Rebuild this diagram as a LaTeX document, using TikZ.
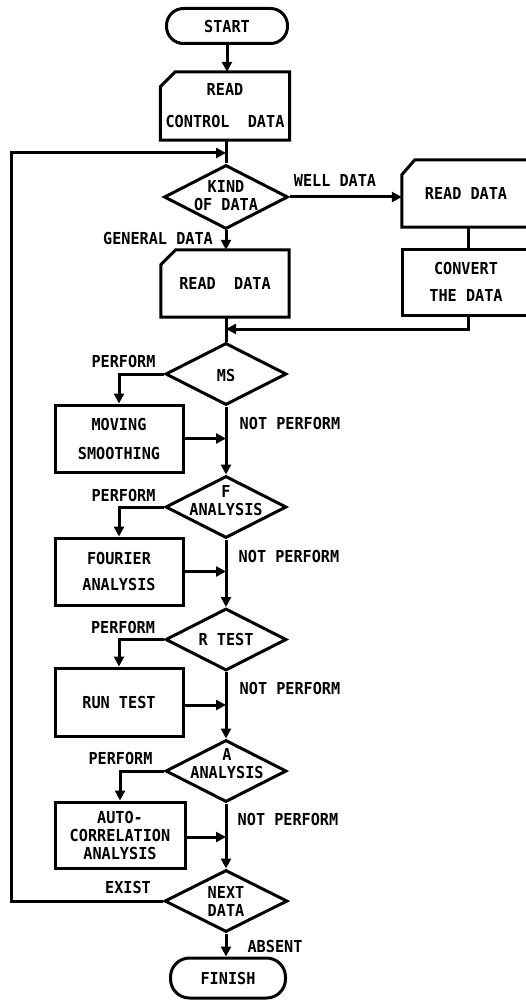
\documentclass[tikz,border=0pt]{standalone}
\usepackage{fontspec}
\newfontfamily\flow[FakeStretch=0.92]{DejaVu Sans Mono}
\usetikzlibrary{arrows.meta,shapes.geometric,calc}
\tikzset{
  line/.style={line width=3pt, line join=miter},
  arr/.style={line, -{Triangle[length=10pt,width=10pt]}},
  txt/.style={font=\flow\bfseries\fontsize{16.5}{18}\selectfont, align=center, inner sep=0pt},
  term/.style={txt, line, draw, rectangle, rounded corners=17pt},
  box/.style={txt, line, draw, rectangle, minimum width=128pt, minimum height=67pt},
  cardin/.style={txt, rectangle, minimum width=128pt, minimum height=67pt},
  dia/.style={line, draw, diamond, inner sep=0pt, minimum width=121pt, minimum height=62pt},
}
\begin{document}
\begin{tikzpicture}[x=1pt,y=-1pt]
\useasboundingbox (0,0) rectangle (526,1000);
\clip (0,0) rectangle (526,1000);
% nodes
\node[term, minimum width=121pt, minimum height=35pt] (start) at (227,26) {START};
\node[cardin, minimum width=129pt, minimum height=68pt] (readctl) at (225,106) {READ\\[14pt]CONTROL\ \ DATA};
\node[dia, minimum width=124pt, minimum height=64pt] (kind) at (226,197) {};
\node[txt] (kindt) at (226,196) {KIND\\OF DATA};
\node[cardin] (rread) at (466,193.5) {READ DATA};
\node[box, minimum height=66pt] (conv) at (466,282) {CONVERT\\[9pt]THE DATA};
\node[cardin] (mread) at (225,283.5) {READ\ \ DATA};
\node[dia] (ms) at (226,374) {};
\node[txt] (mst) at (226,375) {MS};
\node[box] (mov) at (119,438.5) {MOVING\\[11pt]SMOOTHING};
\node[dia] (fa) at (226,507) {};
\node[txt] (fat) at (226,501) {F\\ANALYSIS};
\node[box] (four) at (119,571.5) {FOURIER\\[8pt]ANALYSIS};
\node[dia] (rt) at (226,639.5) {};
\node[txt] (rtt) at (226,639.5) {R TEST};
\node[box, minimum height=68pt] (run) at (119,702) {RUN TEST};
\node[dia] (aa) at (226,771) {};
\node[txt] (aat) at (227,764) {A\\ANALYSIS};
\node[box, minimum width=130pt, minimum height=66pt] (auto) at (120,835) {AUTO-\\CORRELATION\\ANALYSIS};
\node[dia, minimum width=123pt] (next) at (226,901) {};
\node[txt] (nextt) at (226,901) {NEXT\\DATA};
\node[term, minimum width=115pt, minimum height=40pt, rounded corners=19pt] (finish) at (228,978) {FINISH};
% card outlines (cut top-left corner)
\draw[line] ([yshift=-15pt]readctl.north west) -- ([xshift=15pt]readctl.north west) -- (readctl.north east) -- (readctl.south east) -- (readctl.south west) -- cycle;
\draw[line] ([yshift=-15pt]rread.north west) -- ([xshift=13pt]rread.north west) -- (rread.north east) -- (rread.south east) -- (rread.south west) -- cycle;
\draw[line] ([yshift=-15pt]mread.north west) -- ([xshift=15pt]mread.north west) -- (mread.north east) -- (mread.south east) -- (mread.south west) -- cycle;
% labels
\node[txt] (lwell) at (335,180) {WELL DATA};
\node[txt] (lgen) at (158,238) {GENERAL DATA};
\node[txt] (lp1) at (123.5,361) {PERFORM};
\node[txt] (ln1) at (290,423) {NOT PERFORM};
\node[txt] (lp2) at (123.5,495) {PERFORM};
\node[txt] (ln2) at (289,556) {NOT PERFORM};
\node[txt] (lp3) at (123,627) {PERFORM};
\node[txt] (ln3) at (290,688) {NOT PERFORM};
\node[txt] (lp4) at (120.5,758) {PERFORM};
\node[txt] (ln4) at (288,819) {NOT PERFORM};
\node[txt] (lex) at (128,887) {EXIST};
\node[txt] (lab) at (275,946) {ABSENT};
% junction coordinates
\coordinate (j1) at (226,153);
\coordinate (j2) at (226,329);
\coordinate (loopL) at (11,153);
\coordinate (cdown) at (468,329);
% connectors
\draw[arr] (start.south) -- (start.south |- readctl.north);
\draw[line] (readctl.south -| kind.north) -- (kind.north);
\draw[arr] (kind.east) -- (rread.west |- kind.east);
\draw[arr] (kind.south) -- (kind.south |- mread.north);
\draw[line] (rread.south -| cdown) -- (conv.north -| cdown);
\draw[arr] (conv.south -| cdown) -- (cdown) -- (j2);
\draw[line] (mread.south -| ms.north) -- (ms.north);
\draw[arr] (ms.west) -| (mov.north);
\draw[arr] (ms.south) -- (fa.north);
\draw[arr] (mov.east) -- (mov.east -| ms.south);
\draw[arr] (fa.west) -| (four.north);
\draw[arr] (fa.south) -- (rt.north);
\draw[arr] (four.east) -- (four.east -| fa.south);
\draw[arr] (rt.west) -| (run.north);
\draw[arr] (rt.south) -- (aa.north);
\draw[arr] ([yshift=-3pt]run.east) -- ([yshift=-3pt]run.east -| rt.south);
\draw[arr] (aa.west) -| (auto.north);
\draw[arr] (aa.south) -- (next.north);
\draw[arr] ([yshift=-2pt]auto.east) -- ([yshift=-2pt]auto.east -| aa.south);
\draw[arr] (next.south) -- (next.south |- finish.north);
\draw[arr] (next.west) -- (next.west -| loopL) -- (loopL) -- (j1);
\end{tikzpicture}
\end{document}
